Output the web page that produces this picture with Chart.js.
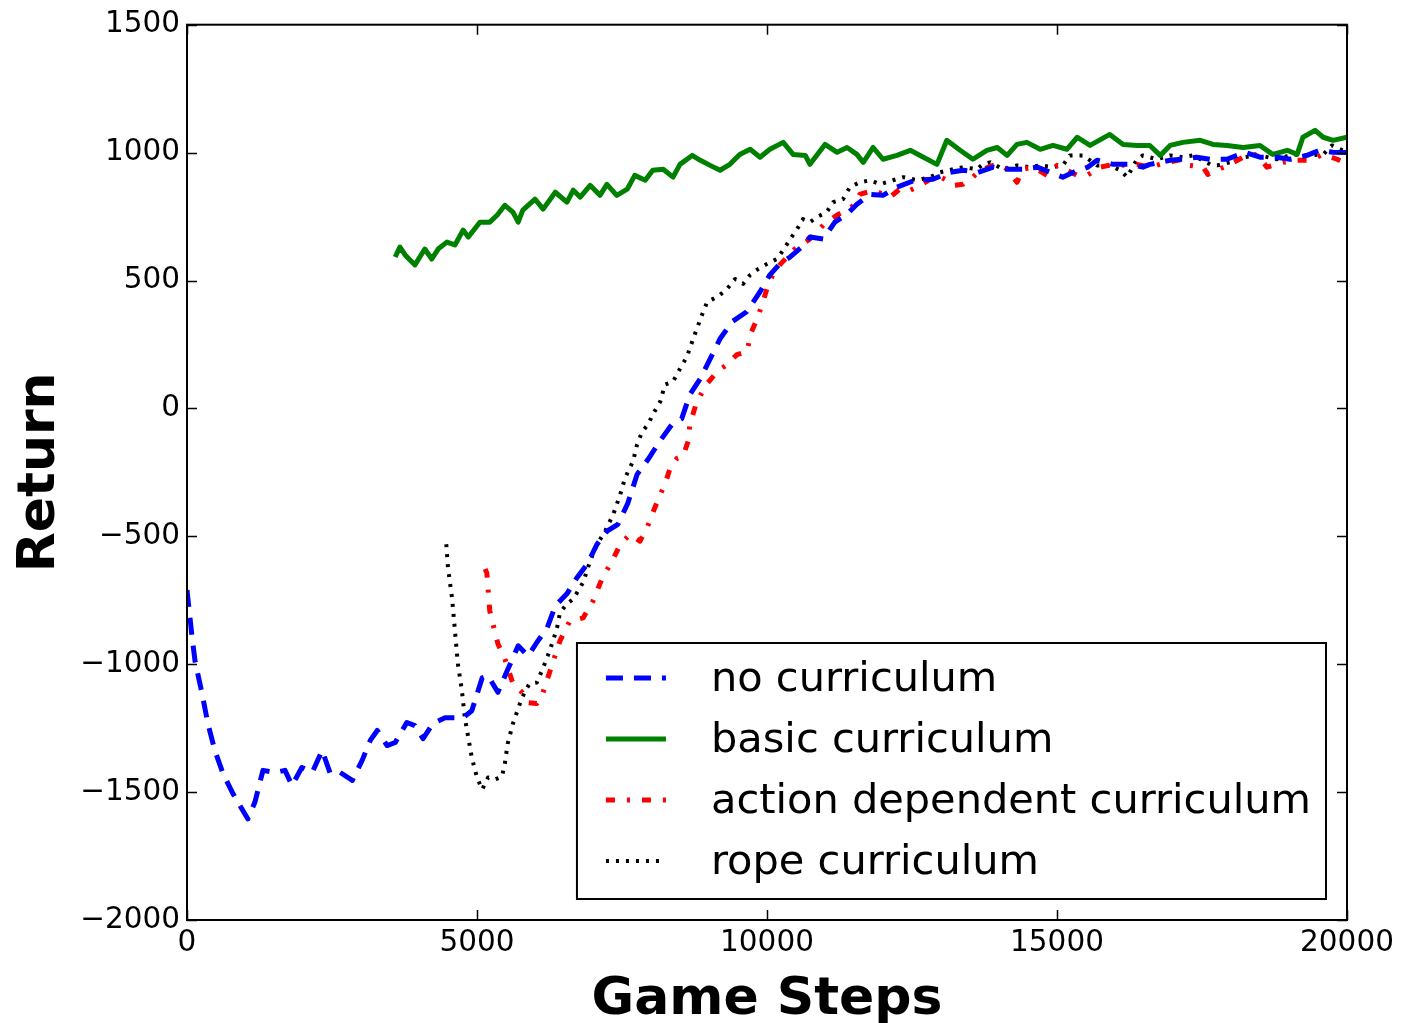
<!DOCTYPE html>
<html>
<head>
<meta charset="utf-8">
<script src="https://cdn.jsdelivr.net/npm/chart.js@4/dist/chart.umd.min.js"></script>
<style>
  body { margin: 0; background: #fff; }
  canvas { display: block; }
</style>
</head>
<body>
<canvas id="grafico" width="1405" height="1023"></canvas>
<script>
// series names and axis ticks
const seriesNames = ['no curriculum', 'basic curriculum', 'action dependent curriculum', 'rope curriculum'];
const xTicks = [0, 5000, 10000, 15000, 20000];
const yTicks = [-2000, -1500, -1000, -500, 0, 500, 1000, 1500];

// no curriculum (blue dashed)
const noCurSteps = [0, 90, 140, 260, 360, 480, 620, 790, 960, 1050, 1170, 1310, 1520, 1690, 1810, 1980, 2160, 2330, 2470, 2640, 2850, 3020, 3160, 3280, 3450, 3590, 3790, 3930, 4070, 4240, 4450, 4620, 4760, 4910, 5090, 5190, 5360, 5520, 5710, 5880, 6050, 6210, 6350, 6550, 6720, 6900, 7070, 7240, 7430, 7600, 7760, 7950, 8150, 8360, 8530, 8670, 8850, 9020, 9190, 9400, 9650, 9880, 10050, 10220, 10400, 10600, 10740, 10970, 11170, 11380, 11550, 11780, 12000, 12240, 12550, 12860, 13150, 13380, 13640, 13900, 14140, 14410, 14660, 14880, 15100, 15280, 15530, 15690, 15970, 16260, 16480, 16600, 16950, 17170, 17410, 17640, 17930, 18240, 18500, 18790, 19020, 19310, 19530, 19760, 20000];
const noCurValues = [-710, -900, -990, -1115, -1232, -1337, -1427, -1505, -1571, -1605, -1540, -1415, -1423, -1415, -1474, -1404, -1423, -1337, -1427, -1423, -1454, -1376, -1298, -1259, -1318, -1306, -1228, -1240, -1291, -1232, -1209, -1209, -1209, -1182, -1053, -1045, -1110, -1026, -928, -967, -909, -858, -772, -725, -663, -609, -531, -480, -453, -371, -258, -199, -129, -63, -40, 54, 116, 194, 272, 339, 378, 456, 522, 565, 592, 631, 670, 662, 728, 759, 798, 837, 833, 865, 892, 896, 923, 931, 923, 943, 935, 935, 943, 923, 904, 923, 943, 970, 954, 954, 943, 954, 970, 974, 982, 974, 974, 1001, 982, 982, 974, 989, 1009, 1001, 1000];

// basic curriculum (green solid)
const basicSteps = [3590, 3670, 3760, 3930, 4100, 4220, 4330, 4480, 4620, 4760, 4850, 5050, 5220, 5350, 5480, 5620, 5710, 5790, 6000, 6140, 6350, 6550, 6660, 6780, 6950, 7120, 7240, 7410, 7590, 7720, 7900, 8030, 8210, 8380, 8500, 8710, 8850, 9020, 9190, 9360, 9530, 9710, 9880, 10050, 10280, 10450, 10660, 10740, 11000, 11210, 11380, 11550, 11660, 11830, 12000, 12240, 12470, 12640, 12930, 13100, 13330, 13550, 13790, 13970, 14140, 14310, 14480, 14710, 14930, 15170, 15350, 15570, 15910, 16140, 16380, 16600, 16780, 16950, 17170, 17470, 17690, 17930, 18210, 18500, 18720, 18970, 19140, 19240, 19450, 19590, 19760, 20000];
const basicValues = [592, 631, 600, 561, 623, 584, 623, 650, 639, 697, 670, 728, 728, 756, 794, 767, 728, 775, 818, 779, 845, 806, 853, 826, 872, 833, 876, 833, 857, 911, 892, 931, 935, 904, 954, 989, 970, 950, 931, 954, 993, 1013, 982, 1013, 1040, 993, 989, 954, 1032, 1001, 1020, 993, 962, 1020, 974, 989, 1009, 989, 954, 1048, 1009, 974, 1009, 1020, 989, 1032, 1040, 1013, 1028, 1013, 1060, 1028, 1071, 1032, 1028, 1028, 989, 1028, 1040, 1048, 1032, 1028, 1020, 1028, 993, 1009, 993, 1060, 1087, 1060, 1048, 1060];

// action dependent curriculum (red dash-dot)
const actionSteps = [5140, 5170, 5220, 5360, 5480, 5620, 5780, 5880, 6030, 6120, 6260, 6430, 6600, 6830, 7000, 7160, 7330, 7470, 7640, 7810, 7930, 8020, 8160, 8240, 8330, 8450, 8550, 8640, 8670, 8790, 8970, 9140, 9310, 9480, 9660, 9710, 9830, 9930, 10020, 10100, 10220, 10350, 10480, 10620, 10740, 10860, 10970, 11090, 11210, 11380, 11520, 11600, 11830, 12120, 12290, 12470, 12640, 12930, 13100, 13210, 13380, 13550, 13670, 13900, 14020, 14140, 14310, 14410, 14590, 14830, 15000, 15350, 15520, 15740, 15970, 16210, 16380, 16600, 16900, 17170, 17290, 17520, 17600, 17760, 17980, 18210, 18450, 18620, 18900, 19140, 19360, 19590, 19830, 20000];
const actionValues = [-628, -644, -792, -920, -979, -1076, -1111, -1150, -1154, -1123, -1026, -909, -831, -819, -753, -663, -597, -531, -492, -519, -468, -414, -336, -297, -234, -195, -188, -129, -63, 27, 97, 144, 171, 210, 222, 288, 350, 417, 483, 522, 561, 592, 623, 643, 662, 689, 717, 736, 756, 775, 798, 837, 853, 826, 857, 853, 872, 911, 892, 872, 876, 904, 931, 950, 954, 935, 884, 935, 943, 911, 950, 911, 911, 943, 954, 950, 954, 943, 962, 974, 950, 943, 915, 931, 954, 982, 993, 943, 962, 970, 970, 993, 974, 955];

// rope curriculum (black dotted)
const ropeSteps = [4470, 4500, 4570, 4620, 4670, 4740, 4790, 4850, 4910, 5000, 5090, 5190, 5310, 5430, 5480, 5530, 5620, 5740, 5830, 5910, 6030, 6140, 6220, 6310, 6380, 6430, 6550, 6660, 6830, 6950, 7070, 7210, 7350, 7470, 7550, 7690, 7760, 7850, 7950, 8030, 8160, 8240, 8380, 8500, 8620, 8710, 8790, 8880, 8970, 9070, 9190, 9310, 9450, 9590, 9710, 9850, 10000, 10170, 10280, 10400, 10520, 10620, 10740, 10860, 11030, 11140, 11310, 11430, 11600, 11780, 11950, 12170, 12350, 12590, 12810, 12980, 13210, 13380, 13620, 13720, 13850, 14070, 14310, 14530, 14710, 14930, 15100, 15220, 15450, 15690, 15910, 16090, 16210, 16380, 16480, 16720, 16950, 17170, 17350, 17640, 17760, 17980, 18210, 18500, 18790, 19070, 19360, 19590, 19740, 20000];
const ropeValues = [-531, -624, -741, -870, -998, -1104, -1209, -1287, -1365, -1443, -1490, -1443, -1450, -1440, -1388, -1310, -1232, -1154, -1104, -1076, -1072, -1014, -967, -909, -858, -800, -764, -745, -680, -597, -531, -480, -414, -336, -273, -207, -141, -90, -63, -24, 27, 93, 105, 155, 202, 261, 311, 366, 417, 428, 444, 467, 506, 487, 522, 545, 565, 584, 619, 662, 701, 740, 728, 748, 767, 806, 818, 865, 884, 892, 876, 892, 904, 892, 904, 923, 935, 943, 935, 954, 962, 935, 950, 943, 950, 943, 950, 989, 989, 950, 950, 931, 904, 974, 989, 974, 989, 982, 989, 954, 950, 962, 982, 989, 974, 993, 989, 993, 1028, 1001];

const FONT = '"DejaVu Sans", "Liberation Sans", sans-serif';
const minus = v => String(v).replace('-', '\u2212');
const pts = (xs, ys) => xs.map((x, i) => ({ x: x, y: ys[i] }));

// frame with inward ticks on all four sides (classic matplotlib look)
const framePlugin = {
    id: 'frame',
    afterDatasetsDraw(chart) {
        const ctx = chart.ctx;
        const a = chart.chartArea;
        const xs = chart.scales.x, ys = chart.scales.y;
        ctx.save();
        ctx.strokeStyle = '#000';
        ctx.lineWidth = 1.5;
        ctx.beginPath();
        xTicks.forEach(t => {
            const p = Math.round(xs.getPixelForValue(t)) + 0.5;
            ctx.moveTo(p, a.bottom); ctx.lineTo(p, a.bottom - 10);
            ctx.moveTo(p, a.top); ctx.lineTo(p, a.top + 10);
        });
        yTicks.forEach(t => {
            const p = Math.round(ys.getPixelForValue(t)) + 0.5;
            ctx.moveTo(a.left, p); ctx.lineTo(a.left + 10, p);
            ctx.moveTo(a.right, p); ctx.lineTo(a.right - 10, p);
        });
        ctx.stroke();
        ctx.lineWidth = 2;
        ctx.strokeRect(a.left, a.top, a.right - a.left, a.bottom - a.top);
        ctx.restore();
    }
};

// legend box in the lower right corner of the plot
const legendPlugin = {
    id: 'boxLegend',
    afterDraw(chart) {
        const ctx = chart.ctx;
        const a = chart.chartArea;
        ctx.save();
        ctx.font = '41.5px ' + FONT;
        const tw = Math.max(...seriesNames.map(n => ctx.measureText(n).width));
        const w = 134 + tw + 15;
        const h = 256;
        const x0 = a.right - 21 - w;
        const y0 = a.bottom - 21 - h;
        ctx.fillStyle = '#fff';
        ctx.fillRect(x0, y0, w, h);
        ctx.strokeStyle = '#000';
        ctx.lineWidth = 2;
        ctx.strokeRect(x0, y0, w, h);
        chart.data.datasets.forEach((ds, i) => {
            const yy = y0 + 35 + i * 61;
            ctx.beginPath();
            ctx.setLineDash(ds.borderDash || []);
            ctx.strokeStyle = ds.borderColor;
            ctx.lineWidth = ds.borderWidth;
            ctx.moveTo(x0 + 29, yy);
            ctx.lineTo(x0 + 89, yy);
            ctx.stroke();
            ctx.setLineDash([]);
            ctx.fillStyle = '#000';
            ctx.textBaseline = 'middle';
            ctx.textAlign = 'left';
            ctx.fillText(ds.label, x0 + 134, yy + 2);
        });
        ctx.restore();
    }
};

const ctx = document.getElementById('grafico').getContext('2d');

new Chart(ctx, {
    type: 'line',
    data: {
        datasets: [{
            label: seriesNames[0],
            data: pts(noCurSteps, noCurValues),
            borderColor: '#0000ff',
            borderWidth: 5,
            borderDash: [17, 11]
        }, {
            label: seriesNames[1],
            data: pts(basicSteps, basicValues),
            borderColor: '#008000',
            borderWidth: 5
        }, {
            label: seriesNames[2],
            data: pts(actionSteps, actionValues),
            borderColor: '#ff0000',
            borderWidth: 5,
            borderDash: [9, 12, 3, 12]
        }, {
            label: seriesNames[3],
            data: pts(ropeSteps, ropeValues),
            borderColor: '#000000',
            borderWidth: 4,
            borderDash: [3, 7]
        }]
    },
    options: {
        responsive: false,
        animation: false,
        devicePixelRatio: 1,
        parsing: false,
        elements: {
            point: { radius: 0, hoverRadius: 0 },
            line: { tension: 0, fill: false, borderCapStyle: 'butt', borderJoinStyle: 'round' }
        },
        layout: { padding: { left: 0, top: 22, right: 58, bottom: 0 } },
        scales: {
            x: {
                type: 'linear',
                min: 0,
                max: 20000,
                afterFit: s => { s.height = 103; },
                afterBuildTicks: s => { s.ticks = xTicks.map(v => ({ value: v })); },
                ticks: {
                    color: '#000',
                    padding: 6,
                    maxRotation: 0,
                    font: { size: 29.5, family: FONT },
                    callback: v => String(v)
                },
                grid: { display: false, drawTicks: false },
                border: { display: false },
                title: {
                    display: true,
                    text: 'Game Steps',
                    color: '#000',
                    padding: { top: 0, bottom: -3 },
                    font: { size: 52, weight: 'bold', family: FONT, lineHeight: 1 }
                }
            },
            y: {
                type: 'linear',
                min: -2000,
                max: 1500,
                afterFit: s => { s.width = 187; },
                afterBuildTicks: s => { s.ticks = yTicks.map(v => ({ value: v })); },
                ticks: {
                    color: '#000',
                    padding: 7,
                    font: { size: 29.5, family: FONT },
                    callback: v => minus(v)
                },
                grid: { display: false, drawTicks: false },
                border: { display: false },
                title: {
                    display: true,
                    text: 'Return',
                    color: '#000',
                    padding: { top: 14, bottom: 0 },
                    font: { size: 52, weight: 'bold', family: FONT, lineHeight: 1 }
                }
            }
        },
        plugins: {
            legend: { display: false },
            tooltip: { enabled: false }
        }
    },
    plugins: [framePlugin, legendPlugin]
});
</script>
</body>
</html>
